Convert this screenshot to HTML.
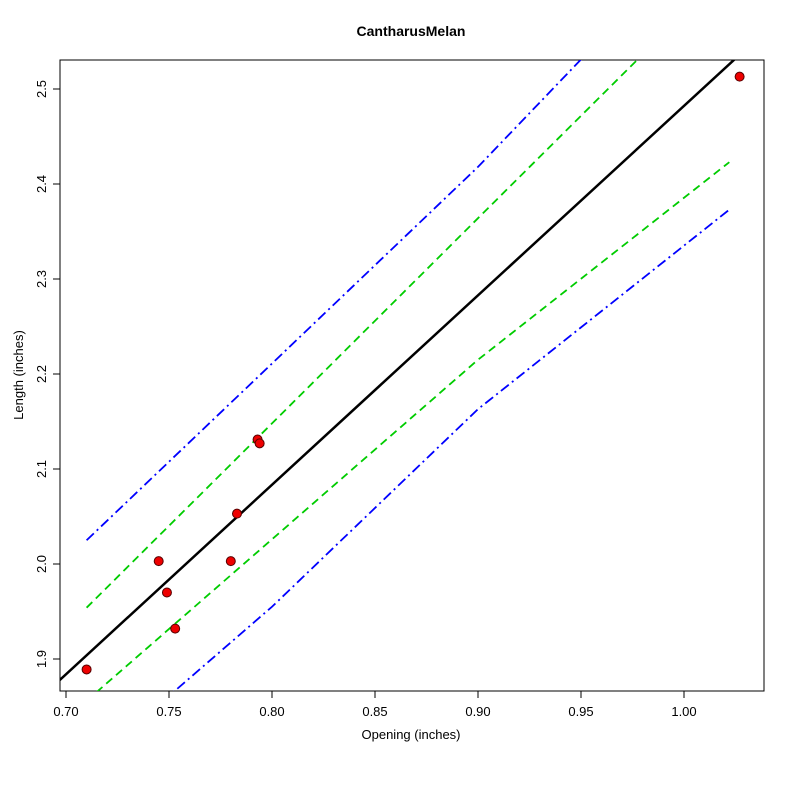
<!DOCTYPE html>
<html><head><meta charset="utf-8"><style>body{margin:0;background:#fff}svg{display:block;font-family:"Liberation Sans",sans-serif}</style></head>
<body>
<svg id="chart" width="800" height="800">
<defs><clipPath id="pc"><rect x="60" y="60" width="704" height="631"/></clipPath></defs>
<rect x="0" y="0" width="800" height="800" fill="#fff"/>
<text x="411" y="36" text-anchor="middle" font-weight="bold" font-size="14">CantharusMelan</text>
<text x="411" y="739" text-anchor="middle" font-size="13">Opening (inches)</text>
<text transform="translate(23,375) rotate(-90)" text-anchor="middle" font-size="13">Length (inches)</text>
<rect x="60" y="60" width="704" height="631" fill="none" stroke="#000"/>
<g id="axes"></g>
<g id="marks" clip-path="url(#pc)"></g>
</svg>
<script>
const xTicks=[0.70,0.75,0.80,0.85,0.90,0.95,1.00];
const yTicks=[1.9,2.0,2.1,2.2,2.3,2.4,2.5];
const ptX=[0.710,0.745,0.749,0.753,0.780,0.783,0.793,0.794,1.027];
const ptY=[1.889,2.003,1.970,1.932,2.003,2.053,2.131,2.127,2.513];
const fitX=[0.69,1.04];
const fitY=[1.864,2.562];
const bandX=[0.71,0.80,0.90,1.022];
const piUpper=[2.025,2.211,2.418,2.694];
const piLower=[1.786,1.955,2.163,2.373];
const ciUpper=[1.954,2.148,2.364,2.627];
const ciLower=[1.856,2.026,2.215,2.423];
const sx=v=>66+(v-0.70)/0.1*206;
const sy=v=>564-(v-2.0)/0.1*95;
const NS="http://www.w3.org/2000/svg";
const axes=document.getElementById('axes'),marks=document.getElementById('marks');
function mk(t,a,p){const e=document.createElementNS(NS,t);for(const k in a)e.setAttribute(k,a[k]);p.appendChild(e);return e;}
xTicks.forEach(v=>{const x=sx(v);
const l=mk('line',{x1:x,x2:x,y1:691,y2:698,stroke:'#000'},axes);


const t=mk('text',{x:x,y:716,'text-anchor':'middle','font-size':13},axes);t.textContent=v.toFixed(2);

});
yTicks.forEach(v=>{const y=sy(v);
const l=mk('line',{x1:53,x2:60,y1:y,y2:y,stroke:'#000'},axes);


const t=mk('text',{transform:`translate(46,${y}) rotate(-90)`,'text-anchor':'middle','font-size':13},axes);t.textContent=v.toFixed(1);

});
function poly(xs,ys,stroke,dash,w,name){const p=mk('polyline',{points:xs.map((x,i)=>sx(x)+','+sy(ys[i])).join(' '),fill:'none',stroke:stroke,'stroke-width':w,'stroke-dasharray':dash},marks);

}
poly(bandX,piUpper,'#0000ff','10,4,2,4',1.8,'prediction-upper');
poly(bandX,piLower,'#0000ff','10,4,2,4',1.8,'prediction-lower');
poly(bandX,ciUpper,'#00cc00','8,5',1.8,'confidence-upper');
poly(bandX,ciLower,'#00cc00','8,5',1.8,'confidence-lower');
poly(fitX,fitY,'#000','none',2.5,'regression-line');
ptX.forEach((x,i)=>{const c=mk('circle',{cx:sx(x),cy:sy(ptY[i]),r:4.5,fill:'#ee0000',stroke:'#550000','stroke-width':1},marks);

});
</script>
</body></html>
